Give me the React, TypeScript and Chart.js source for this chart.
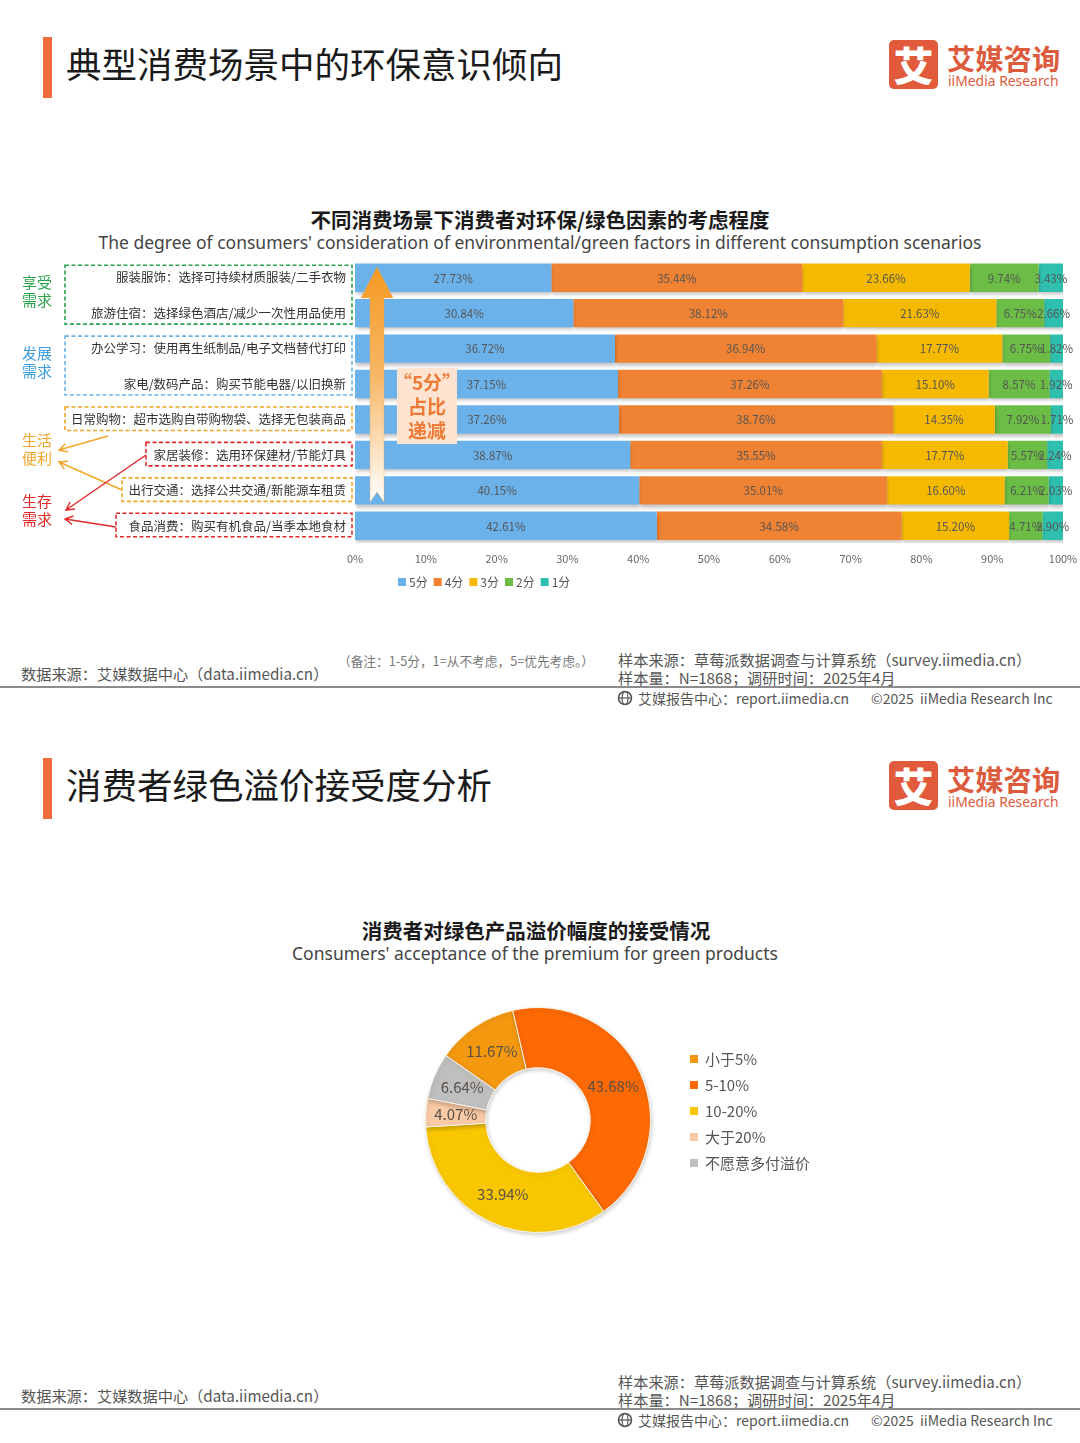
import React, { useEffect, useRef } from "react";
import { Chart, registerables } from "chart.js";
Chart.register(...registerables);

// ---------- DATA ----------
const categories = [
  "服装服饰：选择可持续材质服装/二手衣物",
  "旅游住宿：选择绿色酒店/减少一次性用品使用",
  "办公学习：使用再生纸制品/电子文档替代打印",
  "家电/数码产品：购买节能电器/以旧换新",
  "日常购物：超市选购自带购物袋、选择无包装商品",
  "家居装修：选用环保建材/节能灯具",
  "出行交通：选择公共交通/新能源车租赁",
  "食品消费：购买有机食品/当季本地食材",
];
const scoreLabels = ["5分", "4分", "3分", "2分", "1分"];
const score5 = [27.73, 30.84, 36.72, 37.15, 37.26, 38.87, 40.15, 42.61];
const score4 = [35.44, 38.12, 36.94, 37.26, 38.76, 35.55, 35.01, 34.58];
const score3 = [23.66, 21.63, 17.77, 15.1, 14.35, 17.77, 16.6, 15.2];
const score2 = [9.74, 6.75, 6.75, 8.57, 7.92, 5.57, 6.21, 4.71];
const score1 = [3.43, 2.66, 1.82, 1.92, 1.71, 2.24, 2.03, 2.9];
const scoreColors = ["#6cb2ea", "#ef8233", "#f5ba00", "#6bbd45", "#2ebfae"];

const premiumLabels = ["小于5%", "5-10%", "10-20%", "大于20%", "不愿意多付溢价"];
const premiumValues = [11.67, 43.68, 33.94, 4.07, 6.64];
const premiumColors = ["#f4990f", "#fd6903", "#f9c700", "#f8c9a5", "#bfbfbf"];

const FONT = '"Noto Sans CJK SC", "Noto Sans", sans-serif';
const CANVAS1_TOP = 255;
const CANVAS2_LEFT = 380;
const CANVAS2_TOP = 990;

if (typeof document !== "undefined") document.body.style.margin = "0";

// ---------- helpers ----------
function drawArrowLine(c: CanvasRenderingContext2D, x1: number, y1: number, x2: number, y2: number, color: string) {
  c.save();
  c.strokeStyle = color;
  c.lineWidth = 1.5;
  c.beginPath();
  c.moveTo(x1, y1);
  c.lineTo(x2, y2);
  const a = Math.atan2(y2 - y1, x2 - x1);
  const L = 9, sp = 0.5;
  c.moveTo(x2 - L * Math.cos(a - sp), y2 - L * Math.sin(a - sp));
  c.lineTo(x2, y2);
  c.lineTo(x2 - L * Math.cos(a + sp), y2 - L * Math.sin(a + sp));
  c.stroke();
  c.restore();
}

const barDeco = {
  id: "barDeco",
  beforeDatasetsDraw(chart: any) {
    const c = chart.ctx;
    c.save();
    c.shadowColor = "rgba(0,0,0,0.22)";
    c.shadowBlur = 3;
    c.shadowOffsetX = 1;
    c.shadowOffsetY = 3;
  },
  afterDatasetsDraw(chart: any) {
    const c = chart.ctx;
    c.restore();
    c.save();
    c.font = `11.5px ${FONT}`;
    c.fillStyle = "#555";
    c.textAlign = "center";
    c.textBaseline = "middle";
    chart.data.datasets.forEach((ds: any, di: number) => {
      const meta = chart.getDatasetMeta(di);
      meta.data.forEach((el: any, i: number) => {
        const v = ds.data[i] as number;
        c.fillText(v.toFixed(2) + "%", (el.x + el.base) / 2, el.y + 0.5);
      });
    });
    c.restore();
  },
  afterDraw(chart: any) {
    const c: CanvasRenderingContext2D = chart.ctx;
    const oy = CANVAS1_TOP;
    const ys = chart.scales.y;
    const rowY = (i: number) => ys.getPixelForValue(i);

    // dashed boxes around category labels
    const boxes = [
      { r0: 0, r1: 1, left: 65, color: "#2aa24c" },
      { r0: 2, r1: 3, left: 65, color: "#6ab3e6" },
      { r0: 4, r1: 4, left: 65, color: "#f2a62a" },
      { r0: 5, r1: 5, left: 146, color: "#e02a2a" },
      { r0: 6, r1: 6, left: 122, color: "#f2a62a" },
      { r0: 7, r1: 7, left: 116, color: "#e02a2a" },
    ];
    c.save();
    c.lineWidth = 1.6;
    c.setLineDash([4, 2.5]);
    boxes.forEach((b) => {
      const top = rowY(b.r0) - 12.5;
      const bot = rowY(b.r1) + 11;
      c.strokeStyle = b.color;
      c.strokeRect(b.left, top, 352 - b.left, bot - top);
    });
    c.restore();

    // group labels
    c.save();
    c.font = `15px ${FONT}`;
    c.textAlign = "center";
    c.textBaseline = "middle";
    const groups = [
      { t: ["享受", "需求"], y: 282, color: "#2aa24c" },
      { t: ["发展", "需求"], y: 353, color: "#3c9ddc" },
      { t: ["生活", "便利"], y: 440, color: "#f2a62a" },
      { t: ["生存", "需求"], y: 501, color: "#e02a2a" },
    ];
    groups.forEach((g) => {
      c.fillStyle = g.color;
      c.fillText(g.t[0], 37, g.y - oy);
      c.fillText(g.t[1], 37, g.y + 18.5 - oy);
    });
    c.restore();

    // connector arrows
    drawArrowLine(c, 108, 436 - oy, 59, 450 - oy, "#f2a62a");
    drawArrowLine(c, 122, 490 - oy, 59, 462 - oy, "#f2a62a");
    drawArrowLine(c, 146, 455 - oy, 66, 510 - oy, "#e02a2a");
    drawArrowLine(c, 116, 527 - oy, 65, 519 - oy, "#e02a2a");

    // big gradient arrow
    c.save();
    const tipY = 267 - oy, headY = 298 - oy, tailY = 502 - oy, cx = 377;
    const g = c.createLinearGradient(0, tipY, 0, tailY);
    g.addColorStop(0, "#f59a22");
    g.addColorStop(0.45, "#f7b664");
    g.addColorStop(1, "#ffffff");
    c.fillStyle = g;
    c.beginPath();
    c.moveTo(cx, tipY);
    c.lineTo(cx + 16, headY);
    c.lineTo(cx + 7, headY);
    c.lineTo(cx + 7, tailY);
    c.lineTo(cx, tailY - 10);
    c.lineTo(cx - 7, tailY);
    c.lineTo(cx - 7, headY);
    c.lineTo(cx - 16, headY);
    c.closePath();
    c.fill();
    c.strokeStyle = "rgba(245,160,80,0.35)";
    c.lineWidth = 1;
    c.stroke();
    c.restore();

    // "5分占比递减" box
    c.save();
    c.fillStyle = "#fde3d0";
    c.fillRect(397, 368 - oy, 60, 76);
    c.fillStyle = "#ef7a35";
    c.font = `bold 19px ${FONT}`;
    c.textAlign = "center";
    c.textBaseline = "middle";
    c.fillText("“5分”", 427, 383 - oy);
    c.fillText("占比", 427, 407 - oy);
    c.fillText("递减", 427, 431 - oy);
    c.restore();

    // legend
    c.save();
    c.font = `12px ${FONT}`;
    c.textBaseline = "middle";
    let x = 398;
    const ly = 582 - oy;
    chart.data.datasets.forEach((ds: any) => {
      c.fillStyle = ds.backgroundColor;
      c.fillRect(x, ly - 4, 8, 8);
      c.fillStyle = "#555";
      c.fillText(ds.label, x + 11, ly);
      x += 11 + c.measureText(ds.label).width + 6;
    });
    c.restore();
  },
};

const donutDeco = {
  id: "donutDeco",
  beforeDatasetsDraw(chart: any) {
    const c = chart.ctx;
    c.save();
    c.shadowColor = "rgba(0,0,0,0.18)";
    c.shadowBlur = 4;
    c.shadowOffsetX = 1;
    c.shadowOffsetY = 2;
  },
  afterDatasetsDraw(chart: any) {
    const c = chart.ctx;
    c.restore();
    const meta = chart.getDatasetMeta(0);
    c.save();
    c.font = `15px ${FONT}`;
    c.fillStyle = "#5a5048";
    c.textAlign = "center";
    c.textBaseline = "middle";
    meta.data.forEach((arc: any, i: number) => {
      const mid = (arc.startAngle + arc.endAngle) / 2;
      const r = (arc.innerRadius + arc.outerRadius) / 2;
      const v = chart.data.datasets[0].data[i] as number;
      c.fillText(v.toFixed(2) + "%", arc.x + Math.cos(mid) * r, arc.y + Math.sin(mid) * r);
    });
    c.restore();
  },
  afterDraw(chart: any) {
    const c = chart.ctx;
    c.save();
    c.font = `15px ${FONT}`;
    c.textBaseline = "middle";
    const ds = chart.data.datasets[0];
    chart.data.labels.forEach((lab: string, i: number) => {
      const y = 1059 + 26 * i - CANVAS2_TOP;
      c.fillStyle = ds.backgroundColor[i];
      c.fillRect(690 - CANVAS2_LEFT, y - 4, 8, 8);
      c.fillStyle = "#555";
      c.fillText(lab, 705 - CANVAS2_LEFT, y);
    });
    c.restore();
  },
};

// ---------- small components ----------
function T(props: { x?: number; cy: number; size: number; color?: string; bold?: boolean; family?: string; center?: number; children: any }) {
  const { x = 0, cy, size, color = "#555", bold, family = FONT, center, children } = props;
  const h = size * 1.5;
  const isC = center !== undefined;
  return (
    <div
      style={{
        position: "absolute",
        left: isC ? (center as number) - 540 : x,
        width: isC ? 1080 : undefined,
        textAlign: isC ? "center" : "left",
        top: cy - h / 2,
        height: h,
        lineHeight: `${h}px`,
        fontSize: size,
        color,
        fontWeight: bold ? 700 : 400,
        fontFamily: family,
        whiteSpace: "pre",
      }}
    >
      {children}
    </div>
  );
}

function Logo({ top }: { top: number }) {
  return (
    <>
      <div
        style={{
          position: "absolute", left: 889, top, width: 49, height: 49, background: "#e05a3b",
          borderRadius: 5, color: "#fff", fontSize: 40, fontWeight: 900, lineHeight: "49px",
          textAlign: "center", fontFamily: FONT,
        }}
      >
        艾
      </div>
      <T x={947} cy={top + 18} size={28.3} bold color="#dc5b3c">艾媒咨询</T>
      <T x={948} cy={top + 41} size={13.9} color="#dc5b3c" family='"Noto Sans", sans-serif'>iiMedia Research</T>
    </>
  );
}

function Header({ top, title }: { top: number; title: string }) {
  return (
    <>
      <div style={{ position: "absolute", left: 43, top, width: 9, height: 61, background: "#f26a3b" }} />
      <T x={66} cy={top + 26} size={35.5} color="#1a1a1a">{title}</T>
      <Logo top={top + 3} />
    </>
  );
}

function Globe({ x, cy }: { x: number; cy: number }) {
  return (
    <svg style={{ position: "absolute", left: x, top: cy - 8 }} width={16} height={16} viewBox="0 0 16 16">
      <circle cx="8" cy="8" r="6.5" fill="none" stroke="#555" strokeWidth="1.6" />
      <ellipse cx="8" cy="8" rx="3" ry="6.5" fill="none" stroke="#555" strokeWidth="1.2" />
      <line x1="1.5" y1="8" x2="14.5" y2="8" stroke="#555" strokeWidth="1.2" />
    </svg>
  );
}

function Footer({ lineY, note }: { lineY: number; note?: boolean }) {
  return (
    <>
      <T x={21} cy={lineY - 14} size={15.2}>数据来源：艾媒数据中心（data.iimedia.cn）</T>
      {note && <T x={338} cy={lineY - 26} size={12.7} color="#777">（备注：1-5分，1=从不考虑，5=优先考虑。）</T>}
      <T x={618} cy={lineY - 28} size={15.2}>样本来源：草莓派数据调查与计算系统（survey.iimedia.cn）</T>
      <T x={618} cy={lineY - 9.5} size={15.2}>样本量：N=1868；调研时间：2025年4月</T>
      <div style={{ position: "absolute", left: 0, top: lineY - 1, width: 1080, height: 2, background: "#8c8c8c" }} />
      <Globe x={617} cy={lineY + 11} />
      <T x={638} cy={lineY + 11} size={14}>艾媒报告中心：report.iimedia.cn</T>
      <T x={871} cy={lineY + 11} size={14}>©2025  iiMedia Research Inc</T>
    </>
  );
}

// ---------- App ----------
export default function App() {
  const barRef = useRef<HTMLCanvasElement>(null);
  const donutRef = useRef<HTMLCanvasElement>(null);

  useEffect(() => {
    document.body.style.margin = "0";
    const series = [score5, score4, score3, score2, score1];
    const bar = new Chart(barRef.current as HTMLCanvasElement, {
      type: "bar",
      data: {
        labels: categories,
        datasets: series.map((d, i) => ({
          label: scoreLabels[i],
          data: d,
          backgroundColor: scoreColors[i],
          borderWidth: 0,
          barPercentage: 0.8,
          categoryPercentage: 1,
        })),
      },
      options: {
        indexAxis: "y",
        responsive: false,
        animation: false,
        layout: { padding: { top: 5, right: 17, left: 0, bottom: 0 } },
        plugins: { legend: { display: false }, tooltip: { enabled: false } },
        scales: {
          x: {
            stacked: true,
            min: 0,
            max: 100,
            grid: { display: false, drawTicks: false },
            border: { display: false },
            ticks: {
              stepSize: 10,
              padding: 9,
              color: "#666",
              font: { size: 11, family: FONT },
              callback: (v: any) => v + "%",
            },
            afterFit: (s: any) => { s.height = 51.5; s.paddingLeft = 0; s.paddingRight = 0; },
          },
          y: {
            stacked: true,
            grid: { display: false, drawTicks: false },
            border: { display: false },
            ticks: {
              autoSkip: false,
              padding: 9,
              color: "#333",
              font: { size: 12.5, family: FONT },
            },
            afterFit: (s: any) => { s.width = 355; s.paddingTop = 0; s.paddingBottom = 0; },
          },
        },
      } as any,
      plugins: [barDeco],
    });

    const donut = new Chart(donutRef.current as HTMLCanvasElement, {
      type: "doughnut",
      data: {
        labels: premiumLabels,
        datasets: [
          {
            data: premiumValues,
            backgroundColor: premiumColors,
            borderColor: "#fdf6e8",
            borderWidth: 1,
          },
        ],
      },
      options: {
        responsive: false,
        animation: false,
        rotation: 305,
        cutout: "46.5%",
        layout: { padding: { left: 45, top: 17, right: 199, bottom: 17 } },
        plugins: { legend: { display: false }, tooltip: { enabled: false } },
      } as any,
      plugins: [donutDeco],
    });

    return () => {
      bar.destroy();
      donut.destroy();
    };
  }, []);

  return (
    <div
      style={{
        position: "absolute", left: 0, top: 0, width: 1080, height: 1443,
        background: "#fff", overflow: "hidden", fontFamily: FONT,
      }}
    >
      {/* Panel 1 */}
      <Header top={37} title="典型消费场景中的环保意识倾向" />
      <T center={540} cy={219} size={20.5} bold color="#1a1a1a">不同消费场景下消费者对环保/绿色因素的考虑程度</T>
      <T center={540} cy={242} size={17.5} color="#444" family='"Noto Sans", sans-serif'>
        The degree of consumers' consideration of environmental/green factors in different consumption scenarios
      </T>
      <canvas
        ref={barRef}
        width={1080}
        height={340}
        style={{ position: "absolute", left: 0, top: CANVAS1_TOP, width: 1080, height: 340 }}
      />
      <Footer lineY={687} note />

      {/* Panel 2 */}
      <Header top={758} title="消费者绿色溢价接受度分析" />
      <T center={536} cy={930} size={20.5} bold color="#1a1a1a">消费者对绿色产品溢价幅度的接受情况</T>
      <T center={535} cy={953} size={17.5} color="#444" family='"Noto Sans", sans-serif'>
        Consumers' acceptance of the premium for green products
      </T>
      <canvas
        ref={donutRef}
        width={470}
        height={260}
        style={{ position: "absolute", left: CANVAS2_LEFT, top: CANVAS2_TOP, width: 470, height: 260 }}
      />
      <Footer lineY={1409} />
    </div>
  );
}
